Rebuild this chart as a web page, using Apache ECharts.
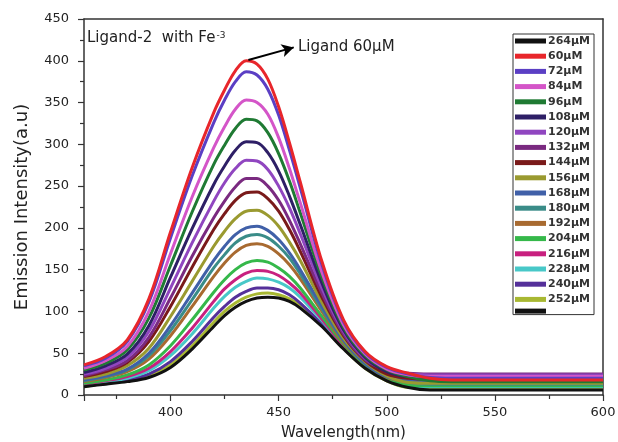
<!DOCTYPE html>
<html>
<head>
<meta charset="utf-8">
<script src="https://cdn.jsdelivr.net/npm/echarts@6/dist/echarts.min.js"></script>
<style>
html,body{margin:0;padding:0;background:#fff;}
#chart{width:618px;height:442px;}
</style>
</head>
<body>
<div id="chart"></div>
<script>
// Wavelength sampling (nm)
const wavelengths = [360,370,380,390,400,410,420,425,430,435,440,445,450,455,460,470,480,490,500,510,520,530,540,560,580,600];

// Legend labels (concentrations)
const seriesNames = ['264μM','60μM','72μM','84μM','96μM','108μM','120μM','132μM','144μM','156μM','168μM','180μM','192μM','204μM','216μM','228μM','240μM','252μM'];

// Emission intensity values for each concentration
const s264 = [10,13,16,21,33,55,82,95,105,112,116,117,116,112,104,82,55,32,17,9,6,6,6,6,6,6];
const s60  = [36,46,66,115,195,272,338,365,388,400,396,378,345,302,255,160,90,52,34,26,20,18,18,18,18,18];
const s72  = [35,44,64,111,188,262,326,353,375,387,383,366,335,293,248,156,88,51,33,25,21,20,20,20,20,20];
const s84  = [32,41,58,100,169,237,296,321,342,353,350,336,308,271,230,147,84,49,31,24,22,22,22,22,22,22];
const s96  = [30,38,54,92,155,219,276,299,319,330,328,314,289,256,218,141,81,47,30,22,17,16,16,16,16,16];
const s108 = [27,35,49,83,141,199,252,274,293,303,302,290,268,238,204,134,78,45,28,22,21,21,21,21,21,21];
const s120 = [25,32,45,76,128,182,232,254,271,281,280,270,250,224,193,128,76,44,29,25,24,24,24,24,24,24];
const s132 = [23,30,41,69,116,166,212,232,249,259,259,250,233,209,181,122,73,42,30,26,25,25,25,25,25,25];
const s144 = [22,28,39,64,106,153,198,217,233,242,243,235,220,198,172,117,71,41,25,20,19,19,19,19,19,19];
const s156 = [20,25,35,56,94,136,178,196,211,220,221,215,202,183,161,111,68,40,23,15,14,14,14,14,14,14];
const s168 = [18,23,31,50,83,122,161,178,192,200,202,197,186,170,150,106,66,38,22,18,17,17,17,17,17,17];
const s180 = [17,22,30,47,77,114,152,168,182,190,192,188,178,164,145,103,65,37,22,15,13,13,13,13,13,13];
const s192 = [16,21,28,43,71,106,142,158,171,179,181,178,169,156,139,100,63,37,21,16,15,15,15,15,15,15];
const s204 = [14,18,24,36,59,90,123,138,150,158,161,159,152,142,128,94,61,35,20,12,11,11,11,11,11,11];
const s216 = [13,17,22,32,52,80,112,127,138,146,149,148,143,134,122,91,59,34,26,24,23,23,23,23,23,23];
const s228 = [12,16,20,29,47,73,104,118,129,136,140,139,135,128,117,89,58,34,18,10,10,10,10,10,10,10];
const s240 = [11,14,18,25,40,64,93,106,117,124,128,128,126,120,110,85,57,33,22,21,20,20,20,20,20,20];
const s252 = [10,14,17,23,36,59,87,100,110,117,121,122,120,115,107,83,56,32,17,9,9,9,9,9,9,9];

const seriesValues = [s264,s60,s72,s84,s96,s108,s120,s132,s144,s156,s168,s180,s192,s204,s216,s228,s240,s252];

const colors = ['#111111','#e8262b','#5b3fc4','#d455c8','#1f7a33','#2e1f66','#9046c0','#7a2a80','#7a1a1a','#9a9a30','#4060a8','#3a8c88','#a86a30','#35b84a','#c8207f','#48c8c8','#55309a','#a8b832'];

// Tick labels
const xTicks = [400,450,500,550,600];
const yTicks = [0,50,100,150,200,250,300,350,400,450];

const FONT = 'DejaVu Sans';

const series = seriesNames.map((name, i) => {
  const s = {
    name: name,
    type: 'line',
    data: wavelengths.map((w, k) => [w, seriesValues[i][k]]),
    smooth: 0.35,
    symbol: 'none',
    lineStyle: { width: 3, color: colors[i] },
    itemStyle: { color: colors[i] },
    z: 2 + (seriesNames.length - i) * 0.01,
    silent: true
  };
  if (name === '60μM') {
    s.markLine = {
      silent: true,
      symbol: ['none', 'arrow'],
      symbolSize: [10, 12],
      label: { show: false },
      lineStyle: { color: '#000', width: 2, type: 'solid' },
      data: [[{ coord: [436, 401] }, { coord: [457, 416] }]]
    };
  }
  return s;
});
// trailing black legend entry with no label
series.push({
  name: 'blank',
  type: 'line',
  data: [],
  symbol: 'none',
  lineStyle: { width: 3, color: '#111111' },
  itemStyle: { color: '#111111' }
});

const chart = echarts.init(document.getElementById('chart'), null, { renderer: 'canvas' });
chart.setOption({
  animation: false,
  backgroundColor: '#ffffff',
  grid: { left: 84, right: 15, top: 19, bottom: 47, containLabel: false, outerBoundsMode: 'none' },
  legend: {
    orient: 'vertical',
    left: 513,
    top: 34,
    itemWidth: 31,
    itemHeight: 5,
    itemGap: 3.2,
    icon: 'rect',
    padding: [1, 4, 1, 2],
    borderColor: '#333',
    borderWidth: 1,
    backgroundColor: '#fff',
    selectedMode: false,
    data: seriesNames.concat(['blank']),
    formatter: n => n === 'blank' ? '' : n,
    textStyle: { fontFamily: FONT, fontSize: 11, fontWeight: 'bold', color: '#333', lineHeight: 12, padding: [0, 0, 0, -3] }
  },
  xAxis: [{
    type: 'value',
    min: 360,
    max: 600,
    splitNumber: 5,
    name: 'Wavelength(nm)',
    nameLocation: 'middle',
    nameGap: 31,
    nameTextStyle: { fontFamily: FONT, fontSize: 15, color: '#222' },
    axisLine: { show: true, lineStyle: { color: '#333', width: 1.5 } },
    axisTick: { show: true, inside: false, length: 6, lineStyle: { color: '#333', width: 1.2 } },
    minorTick: { show: true, splitNumber: 2, length: 4, lineStyle: { color: '#333', width: 1.2 } },
    splitLine: { show: false },
    axisLabel: {
      showMinLabel: false,
      fontFamily: FONT, fontSize: 13, color: '#222', margin: 11,
      formatter: v => xTicks.indexOf(v) >= 0 ? String(v) : ''
    }
  }, {
    type: 'value', position: 'top', min: 360, max: 600,
    axisLine: { show: true, onZero: false, lineStyle: { color: '#333', width: 1.5 } },
    axisTick: { show: false }, axisLabel: { show: false }, splitLine: { show: false }
  }],
  yAxis: [{
    type: 'value',
    min: 0,
    max: 450,
    interval: 50,
    name: 'Emission Intensity(a.u)',
    nameLocation: 'middle',
    nameGap: 53,
    nameTextStyle: { fontFamily: FONT, fontSize: 18, color: '#222' },
    axisLine: { show: true, lineStyle: { color: '#333', width: 1.5 } },
    axisTick: { show: true, inside: false, length: 6, lineStyle: { color: '#333', width: 1.2 } },
    minorTick: { show: true, splitNumber: 2, length: 4, lineStyle: { color: '#333', width: 1.2 } },
    splitLine: { show: false },
    axisLabel: {
      fontFamily: FONT, fontSize: 13, color: '#222', margin: 15,
      formatter: v => yTicks.indexOf(v) >= 0 ? String(v) : ''
    }
  }, {
    type: 'value', position: 'right', min: 0, max: 450,
    axisLine: { show: true, onZero: false, lineStyle: { color: '#333', width: 1.5 } },
    axisTick: { show: false }, axisLabel: { show: false }, splitLine: { show: false }
  }],
  graphic: [{
    type: 'text',
    left: 87,
    top: 31,
    style: {
      text: 'Ligand-2  with Fe{sup|-3}',
      font: '15px "DejaVu Sans"',
      fill: '#222',
      rich: { sup: { fontSize: 9, fontFamily: FONT, fill: '#222', verticalAlign: 'top', lineHeight: 15, padding: [0, 0, 8, 1] } }
    }
  }, {
    type: 'text',
    left: 298,
    top: 40,
    style: { text: 'Ligand 60μM', font: '15px "DejaVu Sans"', fill: '#222' }
  }],
  series: series
});
</script>
</body>
</html>
